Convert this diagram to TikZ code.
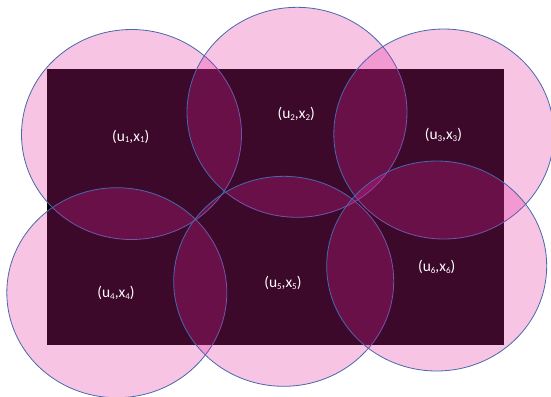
\documentclass[tikz,border=0pt]{standalone}
\usepackage{fontspec}
\setmainfont{Carlito}
\definecolor{pinkfill}{RGB}{228,36,156}
\definecolor{rimblue}{RGB}{72,104,172}
\newcommand{\sbs}[1]{\raisebox{-0.1em}{\fontsize{9}{9}\selectfont #1}}
\begin{document}
\begin{tikzpicture}[x=1bp,y=-1bp,
  cell/.style={fill=pinkfill,fill opacity=0.27,draw=rimblue,draw opacity=1,line width=0.8bp},
  lbl/.style={text=white,font=\fontsize{15.5}{17}\selectfont,inner sep=0pt}]
\useasboundingbox (0,0) rectangle (551,396);
\fill[black] (47,69) rectangle (503.5,345);
\path[cell] (131.5,134.5) ellipse [x radius=110,y radius=105];
\path[cell] (297,112.3) ellipse [x radius=110,y radius=105];
\path[cell] (443.8,134) ellipse [x radius=110,y radius=105];
\path[cell] (116.8,292.7) ellipse [x radius=110,y radius=105];
\path[cell] (283.7,281.3) ellipse [x radius=110,y radius=105];
\path[cell] (436.7,266) ellipse [x radius=110,y radius=105];
\node[lbl] (l1) at (130.7,136.5) {(u\sbs{1},x\sbs{1})};
\node[lbl] (l2) at (296.2,114.3) {(u\sbs{2},x\sbs{2})};
\node[lbl] (l3) at (443.4,135) {(u\sbs{3},x\sbs{3})};
\node[lbl] (l4) at (116,293.3) {(u\sbs{4},x\sbs{4})};
\node[lbl] (l5) at (282.9,283.3) {(u\sbs{5},x\sbs{5})};
\node[lbl] (l6) at (436.7,267.3) {(u\sbs{6},x\sbs{6})};
\end{tikzpicture}
\end{document}
